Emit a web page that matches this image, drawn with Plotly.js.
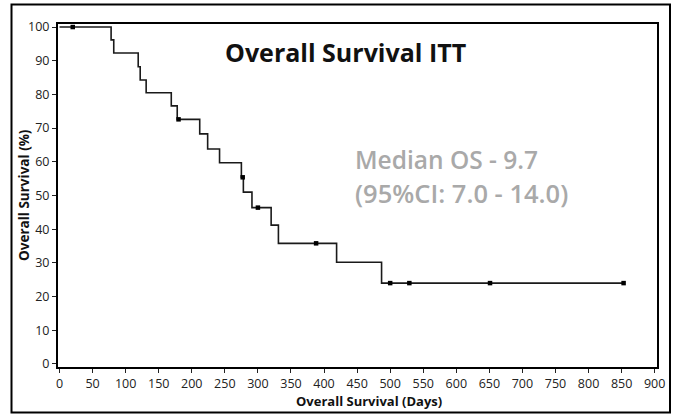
<!DOCTYPE html>
<html>
<head>
<meta charset="utf-8">
<script src="https://cdn.plot.ly/plotly-3.0.1.min.js"></script>
<style>html,body{margin:0;padding:0;background:#fff;}#chart{width:676px;height:415px;}</style>
</head>
<body>
<div id="chart"></div>
<script>
// Kaplan-Meier step curve (days, survival %)
var stepDays = [0, 78, 82, 119, 122, 131, 169, 178, 212, 224, 242, 275, 278, 291, 320, 331, 419, 487, 853];
var stepSurv = [100, 96.2, 92.3, 88.2, 84.3, 80.5, 76.6, 72.6, 68.3, 63.8, 59.7, 55.4, 51.0, 46.4, 41.2, 35.8, 30.2, 24.0, 24.0];
// censored observations
var censorDays = [20, 180, 277, 300, 388, 500, 529, 651, 853];
var censorSurv = [100, 72.6, 55.4, 46.4, 35.8, 24.0, 24.0, 24.0, 24.0];
var xTicks = [0, 50, 100, 150, 200, 250, 300, 350, 400, 450, 500, 550, 600, 650, 700, 750, 800, 850, 900];
var yTicks = [0, 10, 20, 30, 40, 50, 60, 70, 80, 90, 100];

var traces = [
  {x: stepDays, y: stepSurv, type: 'scatter', mode: 'lines',
   line: {shape: 'hv', color: '#1a1a1a', width: 1.6}, hoverinfo: 'skip'},
  {x: censorDays, y: censorSurv, type: 'scatter', mode: 'markers',
   marker: {symbol: 'square', size: 4.5, color: '#000'}, hoverinfo: 'skip'}
];

var font = "'Open Sans', 'DejaVu Sans', sans-serif";
function px(xp) { return (xp - 58) / 599; }
function py(yp) { return (367 - yp) / 343; }
var layout = {
  width: 676, height: 415,
  margin: {l: 58, r: 19, t: 24, b: 48},
  paper_bgcolor: '#fff', plot_bgcolor: '#fff',
  showlegend: false,
  font: {family: font, color: '#222', size: 12},
  xaxis: {
    range: [-2.3, 903.5], tickvals: xTicks, ticktext: xTicks.map(String),
    showgrid: false, zeroline: false, showline: true, linecolor: '#000', linewidth: 2, mirror: true,
    ticks: 'outside', ticklen: 4, tickwidth: 1, tickcolor: '#222',
    tickfont: {family: font, size: 12.5, color: '#222'}
  },
  yaxis: {
    range: [-0.9, 100.9], tickvals: yTicks, ticktext: yTicks.map(String),
    showgrid: false, zeroline: false, showline: true, linecolor: '#000', linewidth: 2, mirror: true,
    ticks: 'outside', ticklen: 4, tickwidth: 1, tickcolor: '#222',
    tickfont: {family: font, size: 12.5, color: '#222'}
  },
  shapes: [
    {type: 'rect', xref: 'paper', yref: 'paper',
     x0: px(11.5), x1: px(670), y0: py(412.5), y1: py(4.5),
     line: {color: '#000', width: 2}, fillcolor: 'rgba(0,0,0,0)'}
  ],
  annotations: [
    {text: '<b>Overall Survival ITT</b>', xref: 'paper', yref: 'paper',
     x: px(345.5), y: py(52), xanchor: 'center', yanchor: 'middle',
     showarrow: false, font: {family: font, size: 25, color: '#111'}},
    {text: 'Median OS - 9.7', xref: 'paper', yref: 'paper',
     x: px(353), y: py(160), xanchor: 'left', yanchor: 'middle',
     showarrow: false, font: {family: font, size: 24.5, weight: 600, color: '#a9a9a9'}},
    {text: '(95%CI: 7.0 - 14.0)', xref: 'paper', yref: 'paper',
     x: px(353), y: py(193), xanchor: 'left', yanchor: 'middle',
     showarrow: false, font: {family: font, size: 25.5, weight: 600, color: '#a9a9a9'}},
    {text: '<b>Overall Survival (Days)</b>', xref: 'paper', yref: 'paper',
     x: px(369), y: py(401), xanchor: 'center', yanchor: 'middle',
     showarrow: false, font: {family: font, size: 13, color: '#111'}},
    {text: '<b>Overall Survival (%)</b>', xref: 'paper', yref: 'paper',
     x: px(24), y: py(195), xanchor: 'center', yanchor: 'middle', textangle: -90,
     showarrow: false, font: {family: font, size: 13.5, color: '#111'}}
  ]
};
Plotly.newPlot('chart', traces, layout, {displayModeBar: false, staticPlot: true});
</script>
</body>
</html>
